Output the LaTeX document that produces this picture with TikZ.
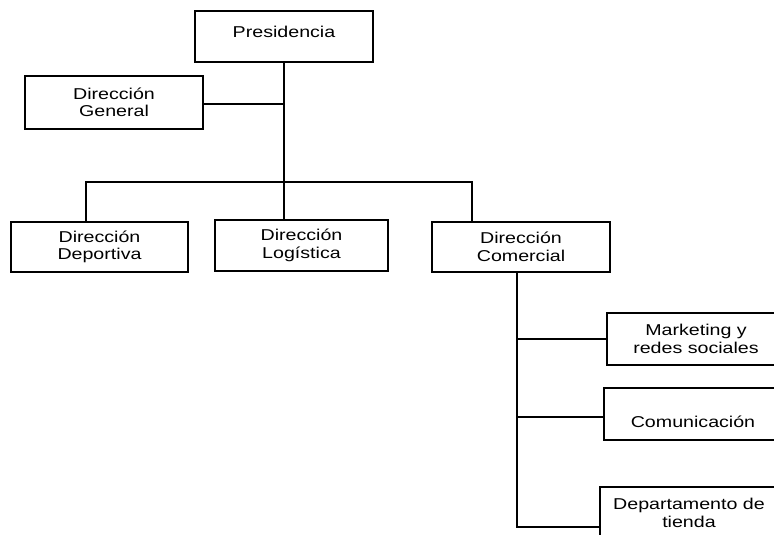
\documentclass[tikz,border=0pt]{standalone}
\usepackage{fontspec}
\setmainfont{Liberation Sans}[FakeStretch=1.25]
\begin{document}
\begin{tikzpicture}[x=1pt,y=-1pt,
  box/.style={draw, line width=2.2pt, minimum width=178pt, minimum height=51pt,
    inner sep=0pt, align=center, font=\fontsize{15.7}{17.5}\selectfont},
  conn/.style={line width=2.2pt}]
\useasboundingbox (0,0) rectangle (774,535);
\begin{scope}
\clip (0,0) rectangle (774,535);
\node[box] (pres) at (284,36.5) {\raisebox{4.5pt}[\height][\depth]{Presidencia}};
\node[box, minimum height=53pt] (dg) at (114,102.5) {Dirección\\General};
\node[box, minimum width=177pt, minimum height=50pt] (dep) at (99.5,247) {Dirección\\Deportiva};
\node[box, minimum width=173pt, minimum height=51pt] (log) at (301.5,245.5) {Dirección\\Logística};
\node[box, minimum height=50pt] (com) at (521,247) {Dirección\\Comercial};
\node[box, minimum height=52pt] (mkt) at (696,339) {Marketing y\\redes sociales};
\node[box, minimum height=52pt] (comu) at (693,414) {\raisebox{-13pt}[0pt][0pt]{Comunicación}};
\node[box, minimum height=52pt] (dept) at (689,513) {Departamento de\\tienda};

\coordinate (jl) at (86,182);
\coordinate (jr) at (472,182);
\coordinate (cb) at (517,527);

\draw[conn] (pres.south) -- (pres.south |- log.north);
\draw[conn] ([shift={(0,1.5)}]dg.east) -- ([shift={(0,1.5)}]dg.east -| pres.south);
\draw[conn] (jl |- dep.north) -- (jl) -- (jr) -- (jr |- com.north);
\draw[conn] (cb |- com.south) -- (cb) -- (cb -| dept.west);
\draw[conn] (cb |- mkt.west) -- (mkt.west);
\draw[conn] ([shift={(0,3)}]cb |- comu.west) -- ([shift={(0,3)}]comu.west);
\end{scope}
\end{tikzpicture}
\end{document}
